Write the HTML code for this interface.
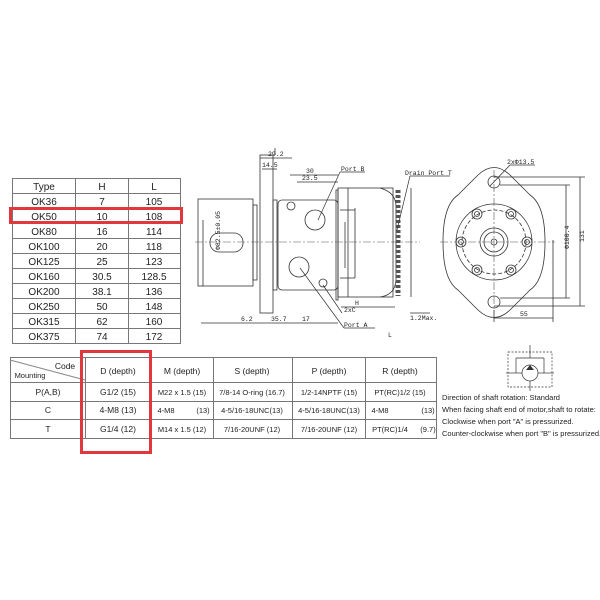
<!DOCTYPE html>
<html><head><meta charset="utf-8"><style>
body{margin:0;background:#fff;width:600px;height:600px;overflow:hidden;font-family:"Liberation Sans",sans-serif}
svg{position:absolute;left:0;top:0}
</style></head><body>
<svg width="600" height="600" viewBox="0 0 600 600" xmlns="http://www.w3.org/2000/svg" font-family="Liberation Sans, sans-serif">
<rect width="600" height="600" fill="#fff"/>
<!-- top table -->
<g stroke="#777" stroke-width="1" fill="none">
<rect x="12.5" y="178.5" width="168" height="165"/>
<line x1="75.5" y1="178" x2="75.5" y2="343"/>
<line x1="128.5" y1="178" x2="128.5" y2="343"/>
<line x1="12" y1="193.5" x2="180" y2="193.5"/><line x1="12" y1="208.5" x2="180" y2="208.5"/>
<line x1="12" y1="223.5" x2="180" y2="223.5"/><line x1="12" y1="238.5" x2="180" y2="238.5"/>
<line x1="12" y1="253.5" x2="180" y2="253.5"/><line x1="12" y1="268.5" x2="180" y2="268.5"/>
<line x1="12" y1="283.5" x2="180" y2="283.5"/><line x1="12" y1="298.5" x2="180" y2="298.5"/>
<line x1="12" y1="313.5" x2="180" y2="313.5"/><line x1="12" y1="328.5" x2="180" y2="328.5"/>
</g>
<g font-size="10" fill="#222" text-anchor="middle">
<text x="44" y="190">Type</text><text x="102" y="190">H</text><text x="154" y="190">L</text>
<text x="44" y="205">OK36</text><text x="102" y="205">7</text><text x="154" y="205">105</text>
<text x="44" y="220">OK50</text><text x="102" y="220">10</text><text x="154" y="220">108</text>
<text x="44" y="235">OK80</text><text x="102" y="235">16</text><text x="154" y="235">114</text>
<text x="44" y="250">OK100</text><text x="102" y="250">20</text><text x="154" y="250">118</text>
<text x="44" y="265">OK125</text><text x="102" y="265">25</text><text x="154" y="265">123</text>
<text x="44" y="280">OK160</text><text x="102" y="280">30.5</text><text x="154" y="280">128.5</text>
<text x="44" y="295">OK200</text><text x="102" y="295">38.1</text><text x="154" y="295">136</text>
<text x="44" y="310">OK250</text><text x="102" y="310">50</text><text x="154" y="310">148</text>
<text x="44" y="325">OK315</text><text x="102" y="325">62</text><text x="154" y="325">160</text>
<text x="44" y="340">OK375</text><text x="102" y="340">74</text><text x="154" y="340">172</text>
</g>
<rect x="10.5" y="208.5" width="171" height="14" fill="none" stroke="#e0383c" stroke-width="3"/>

<!-- bottom table -->
<g stroke="#777" stroke-width="1" fill="none">
<rect x="10.5" y="357.5" width="426" height="81"/>
<line x1="10" y1="360" x2="85" y2="380" stroke="#888"/>
<line x1="85.5" y1="357" x2="85.5" y2="438"/><line x1="150.5" y1="357" x2="150.5" y2="438"/>
<line x1="213.5" y1="357" x2="213.5" y2="438"/><line x1="292.5" y1="357" x2="292.5" y2="438"/>
<line x1="365.5" y1="357" x2="365.5" y2="438"/>
<line x1="10" y1="382.5" x2="436" y2="382.5"/><line x1="10" y1="401.5" x2="436" y2="401.5"/><line x1="10" y1="419.5" x2="436" y2="419.5"/>
</g>
<g font-size="8.5" fill="#222" text-anchor="middle">
<text x="65" y="369">Code</text><text x="30" y="378" font-size="7.5">Mounting</text>
<text x="118" y="374">D (depth)</text><text x="182" y="374">M (depth)</text><text x="252" y="374">S (depth)</text>
<text x="329" y="374">P (depth)</text><text x="400" y="374">R (depth)</text>
<text x="48" y="395">P(A,B)</text><text x="118" y="395">G1/2  (15)</text><text x="182" y="395" font-size="7.5">M22 x 1.5  (15)</text><text x="252" y="395" font-size="7.5">7/8-14  O-ring (16.7)</text><text x="329" y="395" font-size="7.5">1/2-14NPTF (15)</text><text x="400" y="395" font-size="7.5">PT(RC)1/2  (15)</text>
<text x="48" y="413">C</text><text x="118" y="413">4-M8  (13)</text><text x="166" y="413" font-size="7.5">4-M8</text><text x="203" y="413" font-size="7.5">(13)</text><text x="252" y="413" font-size="7.5">4-5/16-18UNC(13)</text><text x="329" y="413" font-size="7.5">4-5/16-18UNC(13)</text><text x="380" y="413" font-size="7.5">4-M8</text><text x="428" y="413" font-size="7.5">(13)</text>
<text x="48" y="432">T</text><text x="118" y="432">G1/4  (12)</text><text x="182" y="432" font-size="7.5">M14 x 1.5 (12)</text><text x="252" y="432" font-size="7.5">7/16-20UNF  (12)</text><text x="329" y="432" font-size="7.5">7/16-20UNF  (12)</text><text x="390" y="432" font-size="7.5">PT(RC)1/4</text><text x="428" y="432" font-size="7.5">(9.7)</text>
</g>
<rect x="81.5" y="351.5" width="69" height="101" fill="none" stroke="#e0383c" stroke-width="3"/>

<!-- side view -->
<g stroke="#333" stroke-width="0.8" fill="none">
<rect x="198" y="199" width="55" height="87"/>
<rect x="253" y="205" width="4" height="75"/>
<rect x="210" y="233" width="33" height="19" rx="9"/>
<rect x="260" y="155" width="13" height="158"/>
<rect x="273" y="200" width="4" height="90"/>
<rect x="278" y="200" width="60" height="90" rx="4"/>
<rect x="336" y="190" width="2" height="110"/>
<rect x="338" y="188" width="55" height="109"/>
<line x1="348" y1="188" x2="348" y2="297"/>
<path d="M380 188 Q395 192 396 205 L396 280 Q395 295 380 297"/>
<circle cx="291" cy="206" r="4"/><circle cx="315" cy="220" r="10"/>
<circle cx="299" cy="267" r="10"/><circle cx="323" cy="283" r="4"/>
<line x1="340" y1="210" x2="355" y2="210"/><line x1="340" y1="278" x2="355" y2="278"/>
<line x1="355" y1="208" x2="355" y2="278"/><line x1="345" y1="222" x2="345" y2="268"/>
<line x1="411" y1="188" x2="411" y2="297"/>
<line x1="275" y1="155" x2="275" y2="148"/><line x1="260" y1="158" x2="292" y2="158"/>
<line x1="262" y1="169" x2="277" y2="169"/><line x1="290" y1="175" x2="338" y2="175"/><line x1="297" y1="182" x2="338" y2="182"/>
<line x1="201" y1="323" x2="338" y2="323"/><line x1="341" y1="307" x2="395" y2="307"/>
<line x1="410" y1="313" x2="430" y2="313"/>
<line x1="203" y1="220" x2="203" y2="286"/>
</g>
<g stroke="#555" stroke-width="0.7">
<line x1="398" y1="190" x2="398" y2="296" stroke-dasharray="3 2" stroke-width="5"/>
</g>
<line x1="195" y1="242" x2="420" y2="242" stroke="#555" stroke-width="0.6" stroke-dasharray="8 2 2 2"/>
<g stroke="#333" stroke-width="0.7">
<line x1="318" y1="220" x2="340" y2="172"/><line x1="340" y1="172" x2="365" y2="172"/>
<line x1="300" y1="268" x2="344" y2="328"/><line x1="344" y1="328" x2="375" y2="328"/>
<line x1="323" y1="285" x2="342" y2="313"/><line x1="397" y1="230" x2="410" y2="176"/><line x1="410" y1="176" x2="450" y2="176"/>
</g>
<g font-family="Liberation Mono, monospace" font-size="6.5" fill="#222">
<text x="268" y="156">29.2</text><text x="262" y="167">14.5</text><text x="306" y="173">30</text><text x="302" y="180">23.5</text>
<text x="341" y="171">Port B</text><text x="405" y="175">Drain Port T</text><text x="344" y="327">Port A</text><text x="344" y="312">2xC</text>
<text x="241" y="321">6.2</text><text x="271" y="321">35.7</text><text x="302" y="321">17</text><text x="355" y="305">H</text><text x="388" y="337">L</text><text x="410" y="320">1.2Max.</text>
<text x="210" y="270" transform="rotate(-90 205 255)">Φ82.5±0.05</text>
</g>

<!-- front view -->
<g stroke="#333" stroke-width="0.8" fill="none">
<path d="M478 175 Q494 160 510 175 L530 195 Q545 205 545 242 Q545 280 530 290 L510 310 Q494 325 478 310 L458 290 Q443 280 443 242 Q443 205 458 195 Z"/>
<circle cx="494" cy="242" r="38"/><circle cx="494" cy="242" r="32" stroke-dasharray="4 2"/>
<circle cx="494" cy="182" r="6"/><circle cx="494" cy="302" r="6"/>
<circle cx="494" cy="242" r="14"/><circle cx="494" cy="242" r="10"/><circle cx="494" cy="242" r="3"/>
<circle cx="461" cy="242" r="5"/><circle cx="527" cy="242" r="5"/><circle cx="477" cy="214" r="5"/><circle cx="511" cy="214" r="5"/><circle cx="477" cy="270" r="5"/><circle cx="511" cy="270" r="5"/>
<circle cx="461" cy="242" r="2.5"/><circle cx="527" cy="242" r="2.5"/><circle cx="477" cy="214" r="2.5"/><circle cx="511" cy="214" r="2.5"/><circle cx="477" cy="270" r="2.5"/><circle cx="511" cy="270" r="2.5"/>
<line x1="494" y1="177" x2="585" y2="177"/><line x1="494" y1="306" x2="585" y2="306"/><line x1="580" y1="177" x2="580" y2="306"/>
<line x1="500" y1="185" x2="570" y2="185"/><line x1="500" y1="298" x2="570" y2="298"/><line x1="566" y1="185" x2="566" y2="298"/>
<line x1="494" y1="310" x2="494" y2="322"/><line x1="553" y1="240" x2="553" y2="322"/><line x1="494" y1="318" x2="553" y2="318"/>
<line x1="490" y1="186" x2="510" y2="165"/><line x1="510" y1="165" x2="535" y2="165"/>
</g>
<line x1="440" y1="242" x2="555" y2="242" stroke="#555" stroke-width="0.6" stroke-dasharray="8 2 2 2"/>
<line x1="494" y1="170" x2="494" y2="315" stroke="#555" stroke-width="0.6" stroke-dasharray="8 2 2 2"/>
<g font-family="Liberation Mono, monospace" font-size="6.5" fill="#222">
<text x="507" y="164">2xΦ13.5</text><text x="520" y="316">55</text>
<text x="560" y="250" transform="rotate(-90 564 245)">Φ100.4</text><text x="578" y="248" transform="rotate(-90 578 242)">131</text>
</g>

<!-- symbol -->
<g stroke="#333" stroke-width="0.7" fill="none">
<rect x="508" y="352" width="44" height="35" stroke-dasharray="2 1.5"/>
<line x1="530" y1="345" x2="530" y2="358"/><line x1="516" y1="358" x2="544" y2="358"/>
<line x1="516" y1="358" x2="516" y2="373"/><line x1="544" y1="358" x2="544" y2="373"/>
<line x1="506" y1="373" x2="522" y2="373"/><line x1="538" y1="373" x2="554" y2="373"/>
<circle cx="530" cy="373" r="8"/><line x1="530" y1="381" x2="530" y2="391"/>
</g>
<polygon points="530,365 526,370 534,370" fill="#333"/>
<g font-size="7.5" fill="#222">
<text x="442" y="400">Direction of shaft rotation: Standard</text>
<text x="442" y="412">When facing shaft end of motor,shaft to rotate:</text>
<text x="442" y="424">Clockwise when port "A" is pressurized.</text>
<text x="442" y="436">Counter-clockwise when port "B" is pressurized.</text>
</g>
</svg>
</body></html>
